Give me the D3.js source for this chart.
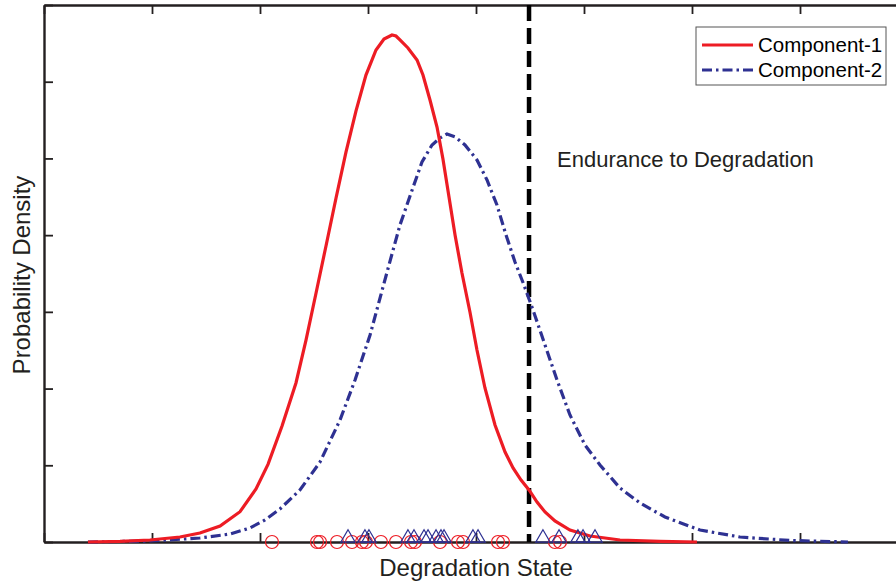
<!DOCTYPE html>
<html>
<head>
<meta charset="utf-8">
<script src="https://cdn.jsdelivr.net/npm/d3@7/dist/d3.min.js"></script>
<style>
  html, body { margin: 0; padding: 0; background: #fff; }
  svg { display: block; font-family: "Liberation Sans", Arial, sans-serif; }
</style>
</head>
<body>
<div id="chart"></div>
<script>
// density curves (x = degradation state, y = density)
var comp1X = [0.407, 0.704, 0.981, 1.259, 1.444, 1.630, 1.815, 1.963, 2.074, 2.204, 2.333, 2.426, 2.519, 2.611, 2.704, 2.796, 2.889, 2.981, 3.074, 3.148, 3.222, 3.259, 3.296, 3.370, 3.454, 3.509, 3.574, 3.639, 3.694, 3.750, 3.806, 3.870, 3.944, 4.009, 4.083, 4.176, 4.269, 4.343, 4.417, 4.491, 4.565, 4.639, 4.731, 4.870, 5.056, 5.333, 5.704, 6.046];
var comp1Y = [0, 0.007, 0.026, 0.065, 0.117, 0.209, 0.395, 0.691, 1.012, 1.512, 2.073, 2.633, 3.246, 3.859, 4.484, 5.082, 5.619, 6.087, 6.414, 6.557, 6.609, 6.596, 6.544, 6.440, 6.283, 6.088, 5.762, 5.410, 4.993, 4.497, 4.002, 3.506, 2.998, 2.503, 2.008, 1.525, 1.173, 0.965, 0.808, 0.678, 0.521, 0.391, 0.274, 0.156, 0.078, 0.026, 0.007, 0];

var comp2X = [0.407, 0.981, 1.444, 1.722, 1.907, 2.046, 2.185, 2.370, 2.556, 2.741, 2.880, 3.019, 3.139, 3.222, 3.296, 3.389, 3.500, 3.593, 3.667, 3.731, 3.806, 3.898, 4.009, 4.102, 4.194, 4.278, 4.361, 4.444, 4.528, 4.639, 4.750, 4.870, 5.009, 5.148, 5.333, 5.519, 5.750, 6.074, 6.444, 6.907, 7.444];
var comp2Y = [0, 0.013, 0.052, 0.104, 0.183, 0.287, 0.430, 0.678, 1.043, 1.590, 2.112, 2.698, 3.324, 3.754, 4.132, 4.510, 4.954, 5.176, 5.267, 5.319, 5.280, 5.176, 4.980, 4.719, 4.393, 4.002, 3.650, 3.350, 3.024, 2.568, 2.112, 1.656, 1.264, 1.004, 0.704, 0.508, 0.326, 0.156, 0.065, 0.020, 0];

// observed samples shown on the axis
var comp1Samples = [2.111, 2.528, 2.556, 2.713, 2.852, 2.944, 2.981, 3.120, 3.259, 3.398, 3.435, 3.667, 3.833, 3.880, 4.204, 4.250, 4.731, 4.778];
var comp2Samples = [2.815, 2.972, 3.009, 3.370, 3.426, 3.519, 3.556, 3.630, 3.676, 3.704, 3.972, 4.019, 4.620, 4.769, 4.944, 4.991, 5.102];

var endurance = 4.491;
var xTickValues = [0, 1, 2, 3, 4, 5, 6, 7, 8];
var yTickValues = [0, 1, 2, 3, 4, 5, 6, 7];
var seriesNames = ["Component-1", "Component-2"];

var W = 896, H = 586;
var red = "#ed1c24", blue = "#2e3192", ink = "#231f20";

var svg = d3.select("#chart").append("svg")
  .attr("width", W)
  .attr("height", H);

var x = d3.scaleLinear().domain([0, 8]).range([44, 908]);
var y = d3.scaleLinear().domain([0, 7]).range([542, 5]);

// axes, ticks pointing inward, no labels
function styleAxis(g) {
  g.selectAll(".domain").attr("stroke", ink).attr("stroke-width", 2.4);
  g.selectAll(".tick line").attr("stroke", ink).attr("stroke-width", 1.8);
  g.selectAll("text").remove();
}
svg.append("g")
  .attr("transform", "translate(0," + y(0) + ")")
  .call(d3.axisBottom(x).tickValues(xTickValues).tickSizeInner(-9).tickSizeOuter(0))
  .call(styleAxis);
svg.append("g")
  .attr("transform", "translate(0," + y(7) + ")")
  .call(d3.axisTop(x).tickValues(xTickValues).tickSizeInner(-9).tickSizeOuter(0))
  .call(styleAxis);
svg.append("g")
  .attr("transform", "translate(" + x(0) + ",0)")
  .call(d3.axisLeft(y).tickValues(yTickValues).tickSizeInner(-9).tickSizeOuter(0))
  .call(styleAxis);

// endurance line
svg.append("line")
  .attr("x1", x(endurance)).attr("x2", x(endurance))
  .attr("y1", y(7)).attr("y2", y(0))
  .attr("stroke", "#000")
  .attr("stroke-width", 4.5)
  .attr("stroke-dasharray", "16 7");

var line = d3.line()
  .x(function (d) { return x(d[0]); })
  .y(function (d) { return y(d[1]); });

svg.append("path")
  .datum(d3.zip(comp2X, comp2Y))
  .attr("d", line)
  .attr("fill", "none")
  .attr("stroke", blue)
  .attr("stroke-width", 3.2)
  .attr("stroke-dasharray", "10 4 2.5 4");

svg.append("path")
  .datum(d3.zip(comp1X, comp1Y))
  .attr("d", line)
  .attr("fill", "none")
  .attr("stroke", red)
  .attr("stroke-width", 3.2);

// sample markers
svg.selectAll("circle.s1")
  .data(comp1Samples)
  .enter().append("circle")
  .attr("class", "s1")
  .attr("cx", function (d) { return x(d); })
  .attr("cy", y(0))
  .attr("r", 6.5)
  .attr("fill", "none")
  .attr("stroke", red)
  .attr("stroke-width", 1.2);

var tri = d3.symbol().type(d3.symbolTriangle).size(90);
svg.selectAll("path.s2")
  .data(comp2Samples)
  .enter().append("path")
  .attr("class", "s2")
  .attr("d", tri)
  .attr("transform", function (d) { return "translate(" + x(d) + "," + (y(0) - 4) + ")"; })
  .attr("fill", "none")
  .attr("stroke", blue)
  .attr("stroke-width", 1.2);

// labels
svg.append("text")
  .attr("x", 557).attr("y", 167)
  .attr("font-size", 22)
  .attr("fill", ink)
  .text("Endurance to Degradation");

svg.append("text")
  .attr("x", 476).attr("y", 576)
  .attr("text-anchor", "middle")
  .attr("font-size", 24)
  .attr("fill", ink)
  .text("Degradation State");

svg.append("text")
  .attr("transform", "translate(30,275) rotate(-90)")
  .attr("text-anchor", "middle")
  .attr("font-size", 24)
  .attr("fill", ink)
  .text("Probability Density");

// legend
var legend = svg.append("g").attr("transform", "translate(696,27)");
legend.append("rect")
  .attr("width", 190).attr("height", 58)
  .attr("fill", "#fff")
  .attr("stroke", "#555")
  .attr("stroke-width", 1);
var items = legend.selectAll("g.item")
  .data(seriesNames)
  .enter().append("g")
  .attr("class", "item")
  .attr("transform", function (d, i) { return "translate(0," + (18 + i * 25) + ")"; });
items.append("line")
  .attr("x1", 6).attr("x2", 57)
  .attr("stroke", function (d, i) { return i ? blue : red; })
  .attr("stroke-width", 3)
  .attr("stroke-dasharray", function (d, i) { return i ? "10 4 2.5 4" : null; });
items.append("text")
  .attr("x", 62).attr("y", 7)
  .attr("font-size", 20.5)
  .attr("fill", "#000")
  .text(function (d) { return d; });
</script>
</body>
</html>
